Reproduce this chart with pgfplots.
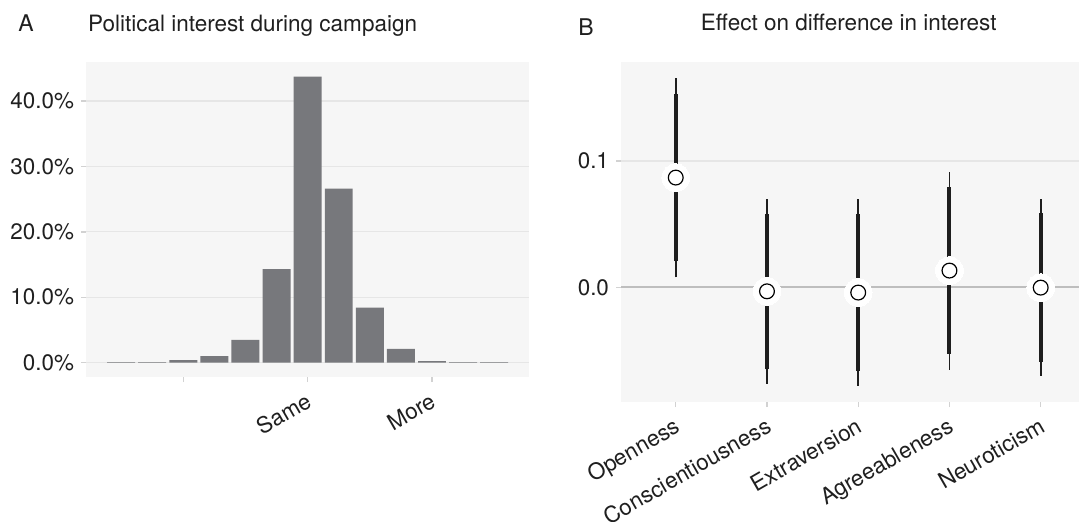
\documentclass[border=0pt]{standalone}
\usepackage{pgfplots}
\pgfplotsset{compat=1.18}
\usepackage{fontspec}
\setmainfont{TeX Gyre Heros}
\definecolor{bgcol}{HTML}{F6F6F6}
\definecolor{gridcol}{HTML}{E6E6E6}
\definecolor{tickcol}{HTML}{D2D2D2}
\definecolor{barcol}{HTML}{77787C}
\definecolor{txtcol}{HTML}{1F1F1F}
\definecolor{zerocol}{HTML}{BEBEBE}
\definecolor{ivcol}{HTML}{1E1E1E}
\begin{document}
\begin{tikzpicture}[x=1pt,y=1pt]
\useasboundingbox (0,0) rectangle (540.5,260.5);
\pgfplotsset{
  refstyle/.style={
    scale only axis,
    anchor=south west,
    axis background/.style={fill=bgcol},
    axis line style={draw=none},
    tick pos=left,
    tick align=outside,
    major tick length=2.5pt,
    tick style={draw=tickcol, line width=0.7pt},
    ymajorgrids,
    grid style={draw=gridcol, line width=0.6pt},
    ticklabel style={font=\fontsize{11.2}{13}\selectfont, text=txtcol},
    clip=false,
  }
}
% ---------- Panel A ----------
\begin{axis}[refstyle,
  at={(43pt,72pt)}, width=221.65pt, height=157.65pt,
  xmin=-0.13, xmax=14.13, ymin=-2.19, ymax=46.0,
  xtick={3,7,11}, xticklabels={,Same,More},
  xticklabel style={rotate=30, anchor=north east},
  ytick={0,10,20,30,40},
  yticklabels={0.0\%,10.0\%,20.0\%,30.0\%,40.0\%},
]
\addplot[ybar, bar width=0.9, fill=barcol, draw=none] coordinates {
 (1,0.1) (2,0.1) (3,0.4) (4,1.0) (5,3.5) (6,14.3) (7,43.7)
 (8,26.6) (9,8.4) (10,2.1) (11,0.25) (12,0.1) (13,0.1)
};
\end{axis}
% ---------- Panel B ----------
\begin{axis}[refstyle,
  at={(310.5pt,59.5pt)}, width=229pt, height=170.15pt,
  xmin=0.4, xmax=5.42, ymin=-0.0908, ymax=0.1785,
  xtick={1,2,3,4,5},
  xticklabels={Openness,Conscientiousness,Extraversion,Agreeableness,Neuroticism},
  xticklabel style={rotate=30, anchor=north east},
  ytick={0,0.1}, yticklabels={0.0,0.1},
  unbounded coords=jump,
]
\addplot[zerocol, line width=1.1pt] coordinates {(0.4,0) (5.42,0)};
\addplot[ivcol, line width=0.85pt] coordinates {
 (1,0.0079) (1,0.1654) (1,nan)
 (2,-0.0765) (2,0.0697) (2,nan)
 (3,-0.0781) (3,0.0697) (3,nan)
 (4,-0.0654) (4,0.0916) (4,nan)
 (5,-0.0702) (5,0.0702)
};
\addplot[ivcol, line width=2pt] coordinates {
 (1,0.0206) (1,0.1528) (1,nan)
 (2,-0.0649) (2,0.0580) (2,nan)
 (3,-0.0660) (3,0.0580) (3,nan)
 (4,-0.0528) (4,0.0792) (4,nan)
 (5,-0.0588) (5,0.0586)
};
\addplot[white, only marks, mark=*, mark size=6.9pt, mark options={fill=white, draw=white, line width=0pt}] coordinates {
 (1,0.0868) (2,-0.0032) (3,-0.0042) (4,0.0132) (5,-0.0003)
};
\addplot[black, only marks, mark=*, mark size=3.7pt, mark options={fill=white, draw=black, line width=0.6pt}] coordinates {
 (1,0.0868) (2,-0.0032) (3,-0.0042) (4,0.0132) (5,-0.0003)
};
\end{axis}
% ---------- Titles ----------
\node[anchor=base west, inner sep=0, text=txtcol, font=\fontsize{11.5}{13}\selectfont] at (9,244.65) {A};
\node[anchor=base west, inner sep=0, text=txtcol, font=\fontsize{11.25}{13}\selectfont] at (43.85,244.65) {Political interest during campaign};
\node[anchor=base west, inner sep=0, text=txtcol, font=\fontsize{11.5}{13}\selectfont] at (289,243) {B};
\node[anchor=base, inner sep=0, text=txtcol, font=\fontsize{11.25}{13}\selectfont] at (424.35,245) {Effect on difference in interest};
\end{tikzpicture}
\end{document}
